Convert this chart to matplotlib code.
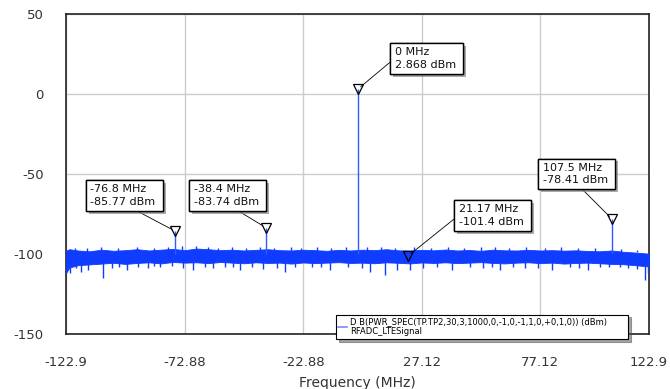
import numpy as np
import matplotlib
matplotlib.use("Agg")
import matplotlib.pyplot as plt
from matplotlib.lines import Line2D
import matplotlib.patheffects as pe

plt.rcParams['font.family'] = ['DejaVu Sans']
plt.rcParams['axes.unicode_minus'] = False

# noise floor envelope (dBm)
env_freq = [-122.9, -121.5, -117.9, -112.9, -107.9, -102.9, -97.9, -92.9, -87.9, -82.9,
            -77.9, -72.9, -67.9, -62.9, -57.9, -52.9, -47.9, -42.9, -37.9, -32.9,
            -27.9, -22.9, -17.9, -12.9, -7.9, -2.9, 2.1, 7.1, 12.1, 17.1,
            22.1, 27.1, 32.1, 37.1, 42.1, 47.1, 52.1, 57.1, 62.1, 67.1,
            72.1, 77.1, 82.1, 87.1, 92.1, 97.1, 102.1, 107.1, 112.1, 117.1,
            122.9]
env_upper = [-98.0, -97.0, -97.8, -98.3, -97.3, -98.0, -97.6, -97.0, -97.8, -97.3,
             -96.8, -97.6, -96.6, -97.0, -97.6, -97.3, -97.8, -97.4, -97.0, -97.6,
             -97.8, -97.3, -97.6, -98.0, -97.4, -97.8, -97.3, -97.6, -97.0, -97.7,
             -97.8, -97.4, -97.7, -97.2, -97.8, -97.5, -98.0, -97.3, -97.7, -97.8,
             -97.4, -97.8, -97.6, -97.9, -97.7, -98.1, -98.3, -97.8, -98.6, -99.1,
             -99.8]
env_lower = [-112.0, -108.5, -107.0, -106.5, -106.0, -105.5, -106.2, -105.6, -105.2, -105.9,
             -105.0, -105.4, -105.2, -105.7, -105.0, -105.4, -105.8, -105.2, -105.6, -105.4,
             -106.0, -105.3, -105.7, -105.4, -105.1, -105.6, -105.4, -105.8, -105.2, -105.5,
             -105.9, -105.3, -105.6, -105.2, -105.7, -105.4, -105.1, -105.6, -105.9, -105.4,
             -105.2, -105.7, -105.4, -106.0, -105.6, -105.4, -105.8, -106.2, -106.4, -107.0,
             -107.8]

# downward noise spikes
dip_freq = [-121.2, -116.6, -113.6, -107.3, -103.5, -97.2, -92.5, -88.3, -83.3, -78.2,
            -69.3, -64.3, -60.9, -55.9, -49.5, -44.5, -33.9, -30.6, -26.3, -19.2,
            -11.6, -4.0, 1.9, 5.3, 11.6, 16.6, 22.1, 33.5, 39.8, 47.4,
            52.9, 60.1, 65.5, 70.6, 81.9, 89.6, 97.2, 102.2, 110.7, 114.0,
            121.2, 122.4, -118.5, -100.5, -86.0, -73.5, -52.5, -40.0, -15.5, 27.5,
            56.5, 76.0, 93.5, 106.0, 118.0]
dip_level = [-112.0, -111.5, -110.0, -115.0, -108.5, -110.0, -108.0, -109.0, -108.0, -107.5,
             -110.0, -108.0, -109.0, -108.0, -110.0, -108.0, -109.0, -111.0, -108.0, -108.0,
             -110.0, -108.0, -109.0, -111.0, -113.0, -110.0, -110.0, -108.0, -110.0, -108.0,
             -109.0, -110.0, -108.0, -109.0, -110.0, -108.0, -110.0, -108.0, -108.0, -109.0,
             -116.5, -112.0, -109.0, -108.0, -107.5, -108.5, -108.0, -109.5, -108.0, -108.5,
             -108.0, -108.5, -109.0, -108.0, -109.5]

# upward noise spikes
bump_freq = [-119.0, -114.0, -108.0, -101.0, -93.0, -86.0, -80.0, -74.0, -68.0, -63.0,
             -59.0, -53.0, -47.0, -41.0, -35.0, -28.0, -24.0, -17.0, -11.0, -5.0,
             4.0, 10.0, 16.0, 24.0, 31.0, 38.0, 45.0, 52.0, 58.0, 64.0,
             71.0, 79.0, 86.0, 93.0, 100.0, 111.0, 118.0]
bump_level = [-96.0, -96.3, -95.5, -96.0, -95.7, -96.3, -95.5, -95.3, -95.0, -95.5,
              -96.0, -95.7, -96.3, -95.5, -96.0, -95.8, -96.3, -95.7, -96.0, -95.5,
              -95.9, -95.7, -96.3, -95.5, -96.0, -95.7, -96.1, -95.8, -95.5, -96.0,
              -95.9, -96.3, -95.7, -96.1, -96.4, -97.0, -97.3]

# spectral tones and markers
tone_freq = [-76.8, -38.4, 0.0, 107.5]
tone_level = [-85.77, -83.74, 2.868, -78.41]
marker_freq = [-76.8, -38.4, 0.0, 21.17, 107.5]
marker_level = [-85.77, -83.74, 2.868, -101.4, -78.41]
marker_text = ["-76.8 MHz \n-85.77 dBm ", "-38.4 MHz \n-83.74 dBm ", "0 MHz \n2.868 dBm ",
               "21.17 MHz \n-101.4 dBm ", "107.5 MHz \n-78.41 dBm "]
label_pos = [(-112.6, -63.4), (-69.1, -63.4), (15.6, 22.2), (42.6, -75.9), (78.0, -50.0)]
leader_rel = [(0.56, 0.0), (0.55, 0.0), (0.0, 0.5), (0.0, 0.5), (0.52, 0.0)]

legend_label = "D B(PWR_SPEC(TP.TP2,30,3,1000,0,-1,0,-1,1,0,+0,1,0)) (dBm)       \nRFADC_LTESignal"

x_ticks = [-122.9, -72.88, -22.88, 27.12, 77.12, 122.9]
x_tick_labels = ["-122.9", "-72.88", "-22.88", "27.12", "77.12", "122.9"]
y_ticks = [-150, -100, -50, 0, 50]

trace_color = '#0f3cff'

fig = plt.figure(figsize=(6.7, 3.89), dpi=100)
ax = fig.add_axes([66 / 670, 1 - 334 / 389, 583 / 670, 320 / 389])

ax.fill_between(env_freq, env_lower, env_upper, color=trace_color, linewidth=0.6,
                edgecolor=trace_color, zorder=3)
ax.vlines(dip_freq, -104.0, dip_level, color=trace_color, linewidth=1.0, zorder=3)
ax.vlines(bump_freq, -99.0, bump_level, color=trace_color, linewidth=1.0, zorder=3)
ax.vlines(tone_freq, -100.0, tone_level, color='#2f5bff', linewidth=1.0, zorder=3)

ax.plot(marker_freq, marker_level, linestyle='none', marker='v', markersize=7,
        markerfacecolor='none', markeredgecolor='black', markeredgewidth=0.9, zorder=5)

for f, lv, txt, pos, rel in zip(marker_freq, marker_level, marker_text, label_pos, leader_rel):
    ann = ax.annotate(txt, xy=(f, lv), xytext=pos, ha='left', va='center',
                      fontsize=8, linespacing=1.3, zorder=6, color='#111111',
                      bbox=dict(boxstyle='square,pad=0.38', fc='white', ec='black', lw=1.0),
                      arrowprops=dict(arrowstyle='-', color='black', lw=0.6,
                                      relpos=rel, shrinkA=0, shrinkB=3))
    ann.get_bbox_patch().set_path_effects(
        [pe.withSimplePatchShadow(offset=(2, -2), shadow_rgbFace='#888888', alpha=0.7), pe.Normal()])

ax.set_xlim(-122.9, 122.9)
ax.set_ylim(-150, 50)
ax.set_xticks(x_ticks)
ax.set_xticklabels(x_tick_labels)
ax.set_yticks(y_ticks)
ax.tick_params(axis='both', length=0, labelsize=9.5, labelcolor='#333333')
ax.tick_params(axis='x', pad=16)
ax.tick_params(axis='y', pad=16)
ax.grid(True, color='#cccccc', linewidth=1.0, zorder=0)
ax.set_axisbelow(True)
for s in ax.spines.values():
    s.set_color('#222222')
    s.set_linewidth(1.2)
ax.set_xlabel("Frequency (MHz)", fontsize=10, color='#333333', labelpad=5)

handle = Line2D([], [], color='#6f8dff', linewidth=1.2)
leg = ax.legend([handle], [legend_label],
                loc='lower right', bbox_to_anchor=(0.964, -0.0156), borderaxespad=0,
                fontsize=6, frameon=True, fancybox=False, shadow=True,
                handlelength=1.0, handletextpad=0.4, borderpad=0.3)
leg.get_frame().set_edgecolor('black')
leg.get_frame().set_linewidth(0.8)
leg.set_zorder(10)

fig.savefig("out.png", dpi=100)
